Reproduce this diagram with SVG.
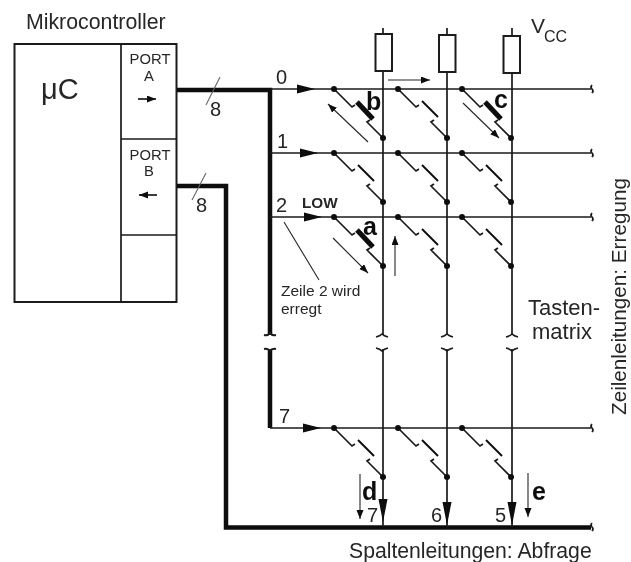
<svg xmlns="http://www.w3.org/2000/svg" xmlns:xlink="http://www.w3.org/1999/xlink" width="631" height="562" viewBox="0 0 631 562">
<style>
text{font-family:"Liberation Sans",Arial,sans-serif;fill:#262626}
.w{fill:none;stroke:#1a1a1a;stroke-width:1.7}
.bus{fill:none;stroke:#0a0a0a;stroke-width:4.5}
.thin{fill:none;stroke:#262626;stroke-width:1.1}
.blade{fill:none;stroke:#111;stroke-width:2}
.bold{fill:none;stroke:#0a0a0a;stroke-width:5}
.t18{font-size:20px}.b{font-weight:bold;font-size:25px;fill:#111}
.p{font-size:14.800px;text-anchor:middle}
</style>
<defs>
<filter id="soft" x="0" y="0" width="100%" height="100%" filterUnits="objectBoundingBox"><feGaussianBlur stdDeviation="0.4"/></filter>
<marker id="sm" markerWidth="10" markerHeight="8" refX="9" refY="3.5" orient="auto" markerUnits="userSpaceOnUse"><path d="M0 0L9 3.5L0 7z" fill="#111"/></marker>
<g id="contacts"><path class="w" d="M0 0L18 18L21 16M49 49L33 33L36 31"/><circle r="3" fill="#111"/><circle cx="49" cy="49" r="3" fill="#111"/></g>
<g id="sw"><use xlink:href="#contacts"/><path class="blade" d="M24 12L40 28"/></g>
<g id="swb"><use xlink:href="#contacts"/><path class="bold" d="M23 13L39 30"/></g>
<path id="bh" d="M-9 -4.500L9 0L-9 4.500z" fill="#0a0a0a"/>
<path id="vh" d="M-4.500 0L0 23L4.500 0z" fill="#0a0a0a"/>
<path id="rb" class="w" d="M0 -4Q-2 -2 0 0Q2 2 0 4" stroke-width="1.3"/>
<path id="hb" class="w" d="M-6 0Q-2 -1 0 -3Q2 -1 6 0"/>
<rect id="res" x="-8" y="0" width="16.500" height="37" fill="#fff" stroke="#1a1a1a" stroke-width="2"/>
</defs>
<rect width="631" height="562" fill="#fff"/>
<g filter="url(#soft)">
<rect width="631" height="562" fill="#fff"/>
<g id="mikrocontroller">
<text x="26" y="29" font-size="21.300px">Mikrocontroller</text>
<rect x="14.500" y="44" width="162" height="258" fill="#fff" stroke="#1a1a1a" stroke-width="2"/>
<path class="w" d="M121 44V302M121 139H176M121 235H176"/>
<text x="41" y="99" font-size="29px">μC</text>
</g>
<g id="port-a">
<text class="p" x="150" y="64">PORT</text><text class="p" x="149" y="81">A</text>
<path class="w" d="M138 99H156" stroke-width="1.300" marker-end="url(#sm)"/>
</g>
<g id="port-b">
<text class="p" x="150" y="160">PORT</text><text class="p" x="149" y="176">B</text>
<path class="w" d="M157 195H139" stroke-width="1.300" marker-end="url(#sm)"/>
</g>

<g id="connectors">
<path class="bus" d="M177 90H270V335M270 349V428"/>
<path class="bus" d="M177 186H226V527.500H591"/>
<path class="thin" d="M220 77L206 105M206 173L192 200" style="stroke:#666"/>
<path class="w" d="M270 89H591M270 153H591M270 217H591M270 428H591"/>
<path class="w" d="M383 28V335M447 28V335M512 28V335M383 349V527M447 349V527M512 349V527"/>
<use xlink:href="#bh" x="306" y="89"/><use xlink:href="#bh" x="309" y="153"/><use xlink:href="#bh" x="313" y="217"/><use xlink:href="#bh" x="312" y="428"/>
<path d="M264 335Q268 336 270 333Q272 336 276 335M264 349Q268 348 270 351Q272 348 276 349" class="w" style="stroke-width:2"/>
<use xlink:href="#hb" x="382" y="337"/><use xlink:href="#hb" x="447" y="337"/><use xlink:href="#hb" x="512" y="337"/>
<use xlink:href="#hb" transform="translate(382,348) scale(1,-1)"/><use xlink:href="#hb" transform="translate(447,348) scale(1,-1)"/><use xlink:href="#hb" transform="translate(512,348) scale(1,-1)"/>
<use xlink:href="#rb" x="592" y="89"/><use xlink:href="#rb" x="592" y="153"/><use xlink:href="#rb" x="592" y="217"/><use xlink:href="#rb" x="592" y="428"/><use xlink:href="#rb" x="592" y="527"/>
<use xlink:href="#vh" x="383" y="499"/><use xlink:href="#vh" x="447" y="502"/><use xlink:href="#vh" x="512" y="502"/>
<path class="thin" d="M388 80H430" marker-end="url(#sm)"/>
<path class="thin" d="M368 142L328 104" marker-end="url(#sm)"/>
<path class="thin" d="M463 103L499 138" marker-end="url(#sm)"/>
<path class="thin" d="M333 238L368 273" marker-end="url(#sm)"/>
<path class="thin" d="M395 276V236" marker-end="url(#sm)"/>
<path class="thin" d="M360 474V519" marker-end="url(#sm)"/>
<path class="thin" d="M528 473V517" marker-end="url(#sm)"/>
<path class="thin" d="M284 222L319 280"/>
</g>

<g id="resistors">
<use xlink:href="#res" x="383.500" y="34"/><use xlink:href="#res" x="447" y="35"/><use xlink:href="#res" x="511.500" y="36"/>
</g>

<g id="switches">
<use xlink:href="#swb" x="334" y="89"/><use xlink:href="#sw" x="398" y="89"/><use xlink:href="#swb" x="462" y="89"/>
<use xlink:href="#sw" x="334" y="153"/><use xlink:href="#sw" x="398" y="153"/><use xlink:href="#sw" x="462" y="153"/>
<use xlink:href="#swb" x="334" y="217"/><use xlink:href="#sw" x="398" y="217"/><use xlink:href="#sw" x="462" y="217"/>
<use xlink:href="#sw" x="334" y="428"/><use xlink:href="#sw" x="398" y="428"/><use xlink:href="#sw" x="462" y="428"/>
</g>

<g id="labels">
<text class="t18" x="210" y="116">8</text><text class="t18" x="196" y="212">8</text>
<text class="t18" x="276" y="84">0</text><text class="t18" x="277" y="148">1</text><text class="t18" x="276" y="212">2</text><text class="t18" x="279" y="423">7</text>
<text x="302" y="208" font-size="15.300px" font-weight="bold" fill="#111">LOW</text>
<text class="b" x="366" y="110">b</text><text class="b" x="494" y="108">c</text><text class="b" x="363" y="235">a</text>
<text class="b" x="362" y="500">d</text><text class="b" x="532" y="500">e</text>
<text class="t18" x="367" y="522">7</text><text class="t18" x="431" y="522">6</text><text class="t18" x="495" y="522">5</text>
<text x="531" y="33" font-size="21px">V</text><text x="544" y="42" font-size="16px">CC</text>
<text x="281" y="296" font-size="15.500px">Zeile 2 wird</text><text x="281" y="314" font-size="15.500px">erregt</text>
<text x="528" y="315" font-size="22px">Tasten-</text><text x="532" y="339" font-size="22px">matrix</text>
<text x="349" y="558" font-size="21.200px">Spaltenleitungen: Abfrage</text>
<text font-size="20.700px" transform="translate(626,415) rotate(-90)">Zeilenleitungen: Erregung</text>
</g>
</g>
</svg>
